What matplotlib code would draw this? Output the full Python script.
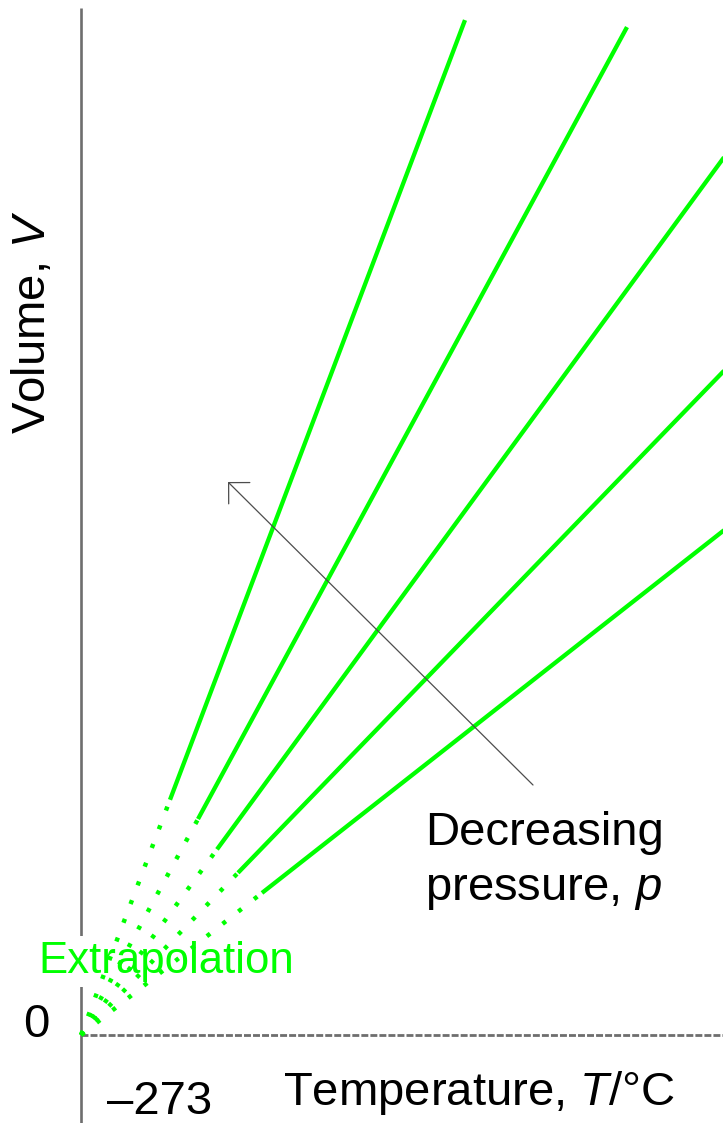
import matplotlib
matplotlib.use("Agg")
import matplotlib.pyplot as plt

plt.rcParams['font.family'] = ['Liberation Sans', 'DejaVu Sans']
plt.rcParams['mathtext.fontset'] = 'custom'
plt.rcParams['mathtext.rm'] = 'Liberation Sans'
plt.rcParams['mathtext.it'] = 'Liberation Sans:italic'
plt.rcParams['lines.scale_dashes'] = False

# ---- data (schematic Charles's law plot) ----
absolute_zero = -273
slopes = [2.643, 1.846, 1.365, 1.033, 0.785]          # volume per degree, one per pressure
measured_start_T = [-184, -156, -137, -116, -92]      # start of measured (solid) range
measured_end_T = [111, 273, 380, 380, 380]            # end of measured range
x_tick_label = "\u2013273"
y_tick_label = "0"

GREEN = "#00ff00"
AXIS = "#6e6e6e"

fig = plt.figure(figsize=(7.23, 11.23), dpi=100)
ax = fig.add_axes([0, 0, 1, 1])
ax.axis('off')
ax.set_xlim(absolute_zero - 81, absolute_zero + 642)
ax.set_ylim(-88, 1035)

# axes
ax.plot([absolute_zero, absolute_zero], [-100, 1027], color=AXIS, lw=1.9,
        solid_capstyle='butt', zorder=1)
ax.plot([absolute_zero, absolute_zero + 700], [0, 0], color=AXIS, lw=2.0,
        linestyle=(0, (5.0, 1.5)), zorder=1)

# lines
for k, ts, te in zip(slopes, measured_start_T, measured_end_T):
    # extrapolated (dotted) part from absolute zero
    ax.plot([absolute_zero, ts], [0, k * (ts - absolute_zero)], color=GREEN,
            lw=3.2, linestyle=(0, (3.0, 11.4)), dash_capstyle='butt', zorder=3)
    # measured (solid) part
    ax.plot([ts, te], [k * (ts - absolute_zero), k * (te - absolute_zero)],
            color=GREEN, lw=3.1, solid_capstyle='butt', zorder=3)

# arrow: decreasing pressure
ax.annotate("", xy=(-126, 553), xytext=(179, 250),
            arrowprops=dict(arrowstyle="->,head_length=0.6,head_width=0.6",
                            color="#4d4d4d", lw=0.9, mutation_scale=18,
                            shrinkA=0, shrinkB=0), zorder=4)

FS = 34
ax.text(425 - 354, 1035 - 845, "Decreasing", fontsize=FS, ha='left', va='baseline', zorder=5)
ax.text(425 - 354, 1035 - 900, "pressure, $p$", fontsize=FS, ha='left', va='baseline', zorder=5)

ax.text(283 - 354, 1035 - 1105, "Temperature, $T$/°C", fontsize=FS, ha='left',
        va='baseline', zorder=5)
ax.text(107 - 354, 1035 - 1114, x_tick_label, fontsize=FS, ha='left', va='baseline', zorder=5)
ax.text(36 - 354, 1035 - 1037, y_tick_label, fontsize=FS, ha='center', va='baseline', zorder=5)
ax.text(33 - 354, 1035 - 322, "Volume, $V$", fontsize=FS, ha='center', va='center',
        rotation=90, zorder=5)

ax.text(38 - 354, 1035 - 973, "Extrapolation", fontsize=31.5, color=GREEN, ha='left',
        va='baseline', zorder=2,
        bbox=dict(boxstyle='square,pad=0.12', fc='white', ec='none'))

fig.savefig("out.png", dpi=100)
